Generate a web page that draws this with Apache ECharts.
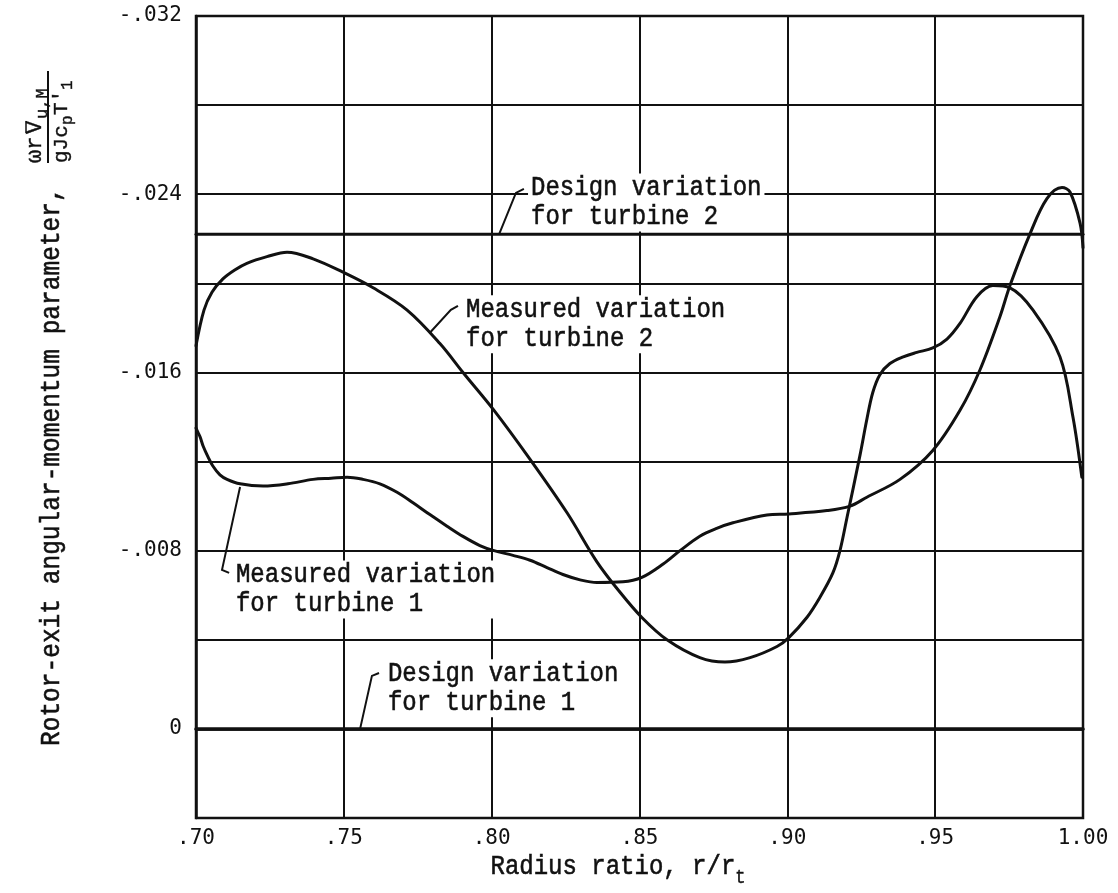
<!DOCTYPE html>
<html>
<head>
<meta charset="utf-8">
<script src="https://cdn.jsdelivr.net/npm/echarts@6/dist/echarts.min.js"></script>
<style>
html,body{margin:0;padding:0;background:#fff;}
#c{width:1118px;height:893px;}
</style>
</head>
<body>
<div id="c"></div>
<script>
// ---- Data ----
const xTickValues = [0.70, 0.75, 0.80, 0.85, 0.90, 0.95, 1.00];
const xTickLabels = ['.70', '.75', '.80', '.85', '.90', '.95', '1.00'];
const yTickValues = [-0.032, -0.024, -0.016, -0.008, 0];
const yTickLabels = ['-.032', '-.024', '-.016', '-.008', '0'];

const designTurbine1 = [[0.70, 0], [1.00, 0]];
const designTurbine2 = [[0.70, -0.0222], [1.00, -0.0222]];

const measuredTurbine1 = [
  [0.700, -0.0135], [0.7007, -0.0133], [0.7014, -0.0131], [0.7024, -0.0127],
  [0.7041, -0.0122], [0.7057, -0.0118], [0.7081, -0.0114], [0.7105, -0.0112],
  [0.7149, -0.0110], [0.7227, -0.0109], [0.7311, -0.0110], [0.7396, -0.0112],
  [0.7457, -0.01125], [0.7511, -0.0113], [0.7565, -0.0112], [0.7622, -0.0110],
  [0.7680, -0.01062], [0.7734, -0.01015], [0.7791, -0.00962], [0.7849, -0.00910],
  [0.7903, -0.00864], [0.7960, -0.00823], [0.8008, -0.00800], [0.8072, -0.00779],
  [0.8130, -0.00757], [0.8187, -0.00724], [0.8241, -0.00693], [0.8299, -0.00669],
  [0.8356, -0.00657], [0.8444, -0.0066], [0.8508, -0.0068], [0.8580, -0.0074],
  [0.8637, -0.0080], [0.8704, -0.00865], [0.8761, -0.00900], [0.8816, -0.00925],
  [0.8931, -0.0096], [0.9005, -0.00965], [0.9134, -0.0098], [0.9212, -0.0100],
  [0.9269, -0.0104], [0.9381, -0.0112], [0.9492, -0.0125], [0.9584, -0.0143],
  [0.9651, -0.0161], [0.9719, -0.0185], [0.9753, -0.0199], [0.9820, -0.0222],
  [0.9878, -0.0238], [0.9929, -0.0243], [0.9956, -0.0241], [0.9990, -0.0227],
  [1.000, -0.0216]
];

const measuredTurbine2 = [
  [0.700, -0.0172], [0.7027, -0.0188], [0.7054, -0.0196], [0.7091, -0.0202],
  [0.7131, -0.0206], [0.7172, -0.0209], [0.7240, -0.0212], [0.7308, -0.0214],
  [0.7396, -0.0211], [0.7497, -0.0205], [0.7599, -0.0198], [0.7714, -0.0188],
  [0.7825, -0.0173], [0.7903, -0.0160], [0.8008, -0.0143], [0.8130, -0.0121],
  [0.8255, -0.0097], [0.8356, -0.0075], [0.8430, -0.0062], [0.8508, -0.0050],
  [0.8593, -0.0040], [0.8704, -0.0032], [0.8789, -0.0030], [0.8874, -0.0032],
  [0.8965, -0.0037], [0.9005, -0.0041], [0.9066, -0.0050], [0.9110, -0.0059],
  [0.9154, -0.0070], [0.9178, -0.0080], [0.9202, -0.0095], [0.9246, -0.0123],
  [0.9269, -0.0139], [0.9289, -0.0151], [0.9313, -0.0159], [0.9347, -0.0164],
  [0.9392, -0.0167], [0.9438, -0.0169], [0.9492, -0.0171], [0.9540, -0.0175],
  [0.9584, -0.0182], [0.9641, -0.0194], [0.9695, -0.0199], [0.9753, -0.0198],
  [0.9831, -0.0188], [0.9922, -0.0167], [0.9966, -0.0140], [0.9996, -0.0113]
];

// ---- Annotations (data coordinates) ----
const annotations = [
  { lines: 'Design variation\nfor turbine 2', at: [0.8123, -0.02428],
    leader: [[0.8025, -0.0222], [0.8082, -0.02406], [0.8109, -0.02424]] },
  { lines: 'Measured variation\nfor turbine 2', at: [0.7903, -0.01881],
    leader: [[0.7791, -0.01778], [0.7862, -0.01881], [0.7886, -0.01899]] },
  { lines: 'Measured variation\nfor turbine 1', at: [0.7125, -0.00691],
    leader: [[0.7149, -0.01086], [0.7088, -0.00714], [0.7112, -0.0070]] },
  { lines: 'Design variation\nfor turbine 1', at: [0.7639, -0.00247],
    leader: [[0.7555, 0], [0.7595, -0.00238], [0.7619, -0.00251]] }
];

const INK = '#111';
const TYPE = "'Liberation Mono', 'DejaVu Sans Mono', monospace";
const TICKF = "'DejaVu Sans Mono', 'Liberation Mono', monospace";

function nearestLabel(v, vals, labs) {
  let best = -1, d = Infinity;
  vals.forEach((t, i) => { const dd = Math.abs(t - v); if (dd < d) { d = dd; best = i; } });
  return d < 1e-6 ? labs[best] : '';
}

const chart = echarts.init(document.getElementById('c'), null, { renderer: 'canvas' });

const lineSeries = (data, w, sm) => ({
  type: 'line', data: data, symbol: 'none', smooth: sm, silent: true,
  lineStyle: { color: INK, width: w, cap: 'round', join: 'round' }, z: 5
});

chart.setOption({
  animation: false,
  backgroundColor: '#fff',
  grid: { left: 196, right: 35, top: 16, bottom: 75, show: true, borderColor: INK, borderWidth: 2.5, backgroundColor: 'transparent' },
  xAxis: {
    type: 'value', min: 0.70, max: 1.00, interval: 0.05,
    axisLine: { show: true, lineStyle: { color: INK, width: 2.5 } },
    axisTick: { show: false },
    splitLine: { show: true, lineStyle: { color: INK, width: 2 } },
    axisLabel: {
      color: INK, fontFamily: TICKF, fontSize: 21, margin: 10,
      formatter: v => nearestLabel(v, xTickValues, xTickLabels)
    }
  },
  yAxis: {
    type: 'value', min: -0.032, max: 0.004, interval: 0.004, inverse: true,
    axisLine: { show: true, lineStyle: { color: INK, width: 2.5 } },
    axisTick: { show: false },
    splitLine: { show: true, lineStyle: { color: INK, width: 2 } },
    axisLabel: {
      color: INK, fontFamily: TICKF, fontSize: 21, margin: 14,
      formatter: v => nearestLabel(v, yTickValues, yTickLabels)
    }
  },
  series: [
    lineSeries(designTurbine1, 3.5, false),
    lineSeries(designTurbine2, 3, false),
    lineSeries(measuredTurbine1, 3, 0.35),
    lineSeries(measuredTurbine2, 3, 0.35)
  ]
});

// ---- Graphic overlays positioned through the axes ----
const px = p => chart.convertToPixel({ gridIndex: 0 }, p);
const graphics = [];
const SY = 1.15; // taller typewriter glyphs

annotations.forEach(a => {
  const p = px(a.at);
  graphics.push({
    type: 'text', x: p[0], y: p[1] - 14.5, scaleY: SY, z: 50,
    style: {
      text: a.lines, fontFamily: TYPE, fontSize: 24, lineHeight: 29 / SY,
      fill: INK, stroke: INK, lineWidth: 0.5, align: 'left', verticalAlign: 'top',
      backgroundColor: '#fff', padding: [0, 3, 0, 3]
    }
  });
  graphics.push({
    type: 'polyline', z: 51,
    shape: { points: a.leader.map(px) },
    style: { stroke: INK, lineWidth: 2, fill: null }
  });
});

// X axis title
graphics.push({
  type: 'text', x: 618, y: 866, scaleY: SY, z: 50,
  style: {
    text: '{a|Radius ratio, r/r}{s|t}',
    align: 'center', verticalAlign: 'middle',
    rich: {
      a: { fontFamily: TYPE, fontSize: 24, fill: INK, stroke: INK, lineWidth: 0.5, lineHeight: 26, verticalAlign: 'bottom' },
      s: { fontFamily: TYPE, fontSize: 17, fill: INK, stroke: INK, lineWidth: 0.4, lineHeight: 17, verticalAlign: 'bottom', padding: [0, 0, -6, 0] }
    }
  }
});

// Y axis title (rotated) with the fraction
graphics.push({
  type: 'text', x: 52, y: 746, rotation: Math.PI / 2, scaleY: SY, z: 50,
  style: {
    text: 'Rotor-exit angular-momentum parameter,',
    fontFamily: TYPE, fontSize: 24.5, fill: INK, stroke: INK, lineWidth: 0.5,
    align: 'left', verticalAlign: 'middle'
  }
});
const fr = { fontFamily: TYPE, fill: INK, stroke: INK, lineWidth: 0.4, align: 'left' };
graphics.push({
  type: 'group', x: 48, y: 163, rotation: Math.PI / 2, z: 50,
  children: [
    { type: 'line', shape: { x1: 0, y1: 0, x2: 92, y2: 0 }, style: { stroke: INK, lineWidth: 2 } },
    // numerator
    { type: 'text', x: 0, y: -2, style: Object.assign({ text: 'ωr', fontSize: 22, verticalAlign: 'bottom' }, fr) },
    { type: 'text', x: 29, y: -2, style: Object.assign({ text: 'V', fontSize: 22, verticalAlign: 'bottom' }, fr) },
    { type: 'line', shape: { x1: 30, y1: -22, x2: 42, y2: -22 }, style: { stroke: INK, lineWidth: 1.5 } },
    { type: 'text', x: 44, y: 3, style: Object.assign({ text: 'u,M', fontSize: 17, verticalAlign: 'bottom' }, fr) },
    // denominator
    { type: 'text', x: 0, y: 3, style: Object.assign({ text: 'gJc', fontSize: 21, verticalAlign: 'top' }, fr) },
    { type: 'text', x: 38, y: 12, style: Object.assign({ text: 'p', fontSize: 16, verticalAlign: 'top' }, fr) },
    { type: 'text', x: 48, y: 3, style: Object.assign({ text: "T'", fontSize: 21, verticalAlign: 'top' }, fr) },
    { type: 'text', x: 73, y: 12, style: Object.assign({ text: '1', fontSize: 16, verticalAlign: 'top' }, fr) }
  ]
});

chart.setOption({ graphic: graphics });
</script>
</body>
</html>
